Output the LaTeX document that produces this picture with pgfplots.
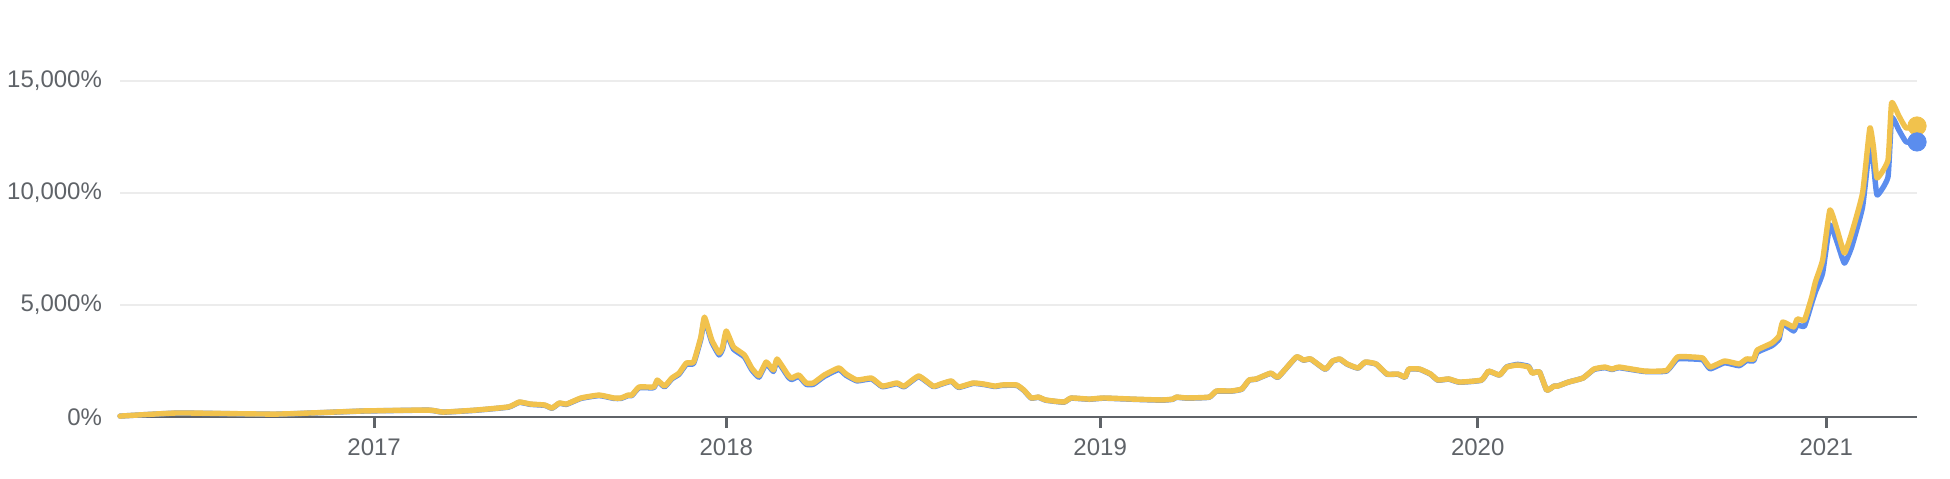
\documentclass[border=0pt]{standalone}
\usepackage{pgfplots}
\pgfplotsset{compat=1.18}
\usepackage{pgfplotstable}
\usepackage{fontspec}
\setmainfont{Liberation Sans}

\definecolor{goldline}{HTML}{F1C24D}
\definecolor{blueline}{HTML}{5B8DEE}
\definecolor{labelgray}{HTML}{5F6368}
\definecolor{gridgray}{HTML}{ECECEC}

% x = year, y = yellow series (%), b = blue series (%)
\pgfplotstableread{
x y b
2016.30 40 40
2016.46 180 175
2016.73 130 125
2016.97 270 265
2017.15 310 305
2017.19 220 215
2017.28 310 300
2017.37 450 440
2017.40 670 655
2017.43 580 565
2017.47 535 520
2017.49 400 390
2017.51 625 610
2017.53 580 565
2017.57 850 830
2017.62 980 955
2017.66 850 830
2017.68 850 830
2017.70 980 955
2017.71 980 955
2017.73 1340 1305
2017.77 1340 1305
2017.78 1650 1610
2017.80 1380 1345
2017.82 1740 1700
2017.84 1960 1910
2017.86 2410 2350
2017.88 2455 2390
2017.90 3570 3480
2017.91 4460 4350
2017.93 3440 3350
2017.95 2860 2770
2017.96 3125 3040
2017.97 3840 3740
2017.99 3125 3030
2018.02 2770 2680
2018.04 2190 2110
2018.06 1850 1780
2018.08 2455 2380
2018.10 2100 2030
2018.11 2590 2510
2018.14 1875 1800
2018.15 1740 1670
2018.17 1875 1810
2018.19 1520 1460
2018.21 1520 1460
2018.24 1875 1810
2018.28 2190 2120
2018.30 1920 1860
2018.33 1650 1610
2018.37 1740 1700
2018.40 1380 1350
2018.44 1520 1490
2018.46 1380 1350
2018.50 1830 1800
2018.54 1380 1360
2018.56 1470 1450
2018.59 1610 1590
2018.61 1340 1320
2018.65 1520 1500
2018.68 1470 1450
2018.71 1380 1360
2018.73 1430 1410
2018.77 1430 1410
2018.79 1200 1180
2018.81 850 840
2018.83 890 880
2018.85 760 750
2018.90 670 660
2018.92 850 840
2018.97 800 790
2019.01 850 840
2019.09 800 790
2019.17 760 750
2019.20 800 790
2019.21 890 880
2019.24 850 840
2019.30 890 880
2019.32 1160 1150
2019.36 1160 1150
2019.39 1250 1240
2019.41 1650 1640
2019.43 1700 1690
2019.47 1960 1950
2019.49 1785 1775
2019.54 2680 2670
2019.56 2545 2535
2019.58 2590 2580
2019.62 2140 2130
2019.64 2500 2490
2019.66 2590 2580
2019.68 2370 2360
2019.71 2190 2180
2019.73 2455 2445
2019.76 2370 2360
2019.79 1920 1910
2019.82 1920 1910
2019.84 1785 1775
2019.85 2140 2130
2019.88 2140 2130
2019.91 1920 1910
2019.93 1650 1640
2019.96 1700 1690
2019.99 1560 1550
2020.05 1650 1640
2020.07 2050 2040
2020.10 1875 1870
2020.12 2230 2240
2020.15 2320 2350
2020.18 2230 2260
2020.19 1960 1970
2020.21 2010 2010
2020.23 1200 1200
2020.25 1380 1380
2020.26 1380 1380
2020.29 1560 1560
2020.33 1740 1740
2020.36 2140 2120
2020.39 2230 2200
2020.41 2140 2120
2020.43 2230 2200
2020.50 2050 2030
2020.56 2080 2050
2020.59 2680 2590
2020.63 2680 2590
2020.66 2630 2550
2020.68 2230 2150
2020.72 2500 2420
2020.76 2370 2290
2020.78 2590 2510
2020.80 2590 2510
2020.81 2990 2890
2020.85 3300 3180
2020.87 3620 3480
2020.88 4240 4150
2020.91 4020 3840
2020.92 4375 4110
2020.94 4330 4060
2020.96 5360 5090
2020.97 6030 5580
2020.99 7010 6430
2021.01 9240 8570
2021.03 8350 7800
2021.05 7320 6870
2021.07 8210 7590
2021.10 10000 9375
2021.12 12900 12140
2021.13 12050 11300
2021.14 10670 9910
2021.17 11470 10710
2021.18 14020 13350
2021.20 13440 12810
2021.22 12900 12280
2021.25 12990 12280
}\returns

\begin{document}
\begin{tikzpicture}
\begin{axis}[
    scale only axis,
    width=898.5pt, height=208.5pt,
    xmin=2016.30, xmax=2021.25,
    ymin=0, ymax=18616,
    clip=false,
    axis x line*=bottom,
    axis y line*=left,
    y axis line style={draw=none},
    x axis line style={draw=labelgray, line width=1.4pt},
    tick align=outside,
    major tick length=5.5pt,
    xtick={2017,2017.97,2019,2020.04,2021},
    xticklabels={2017,2018,2019,2020,2021},
    xtick style={draw=labelgray, line width=1.6pt},
    ytick={0,5000,10000,15000},
    yticklabels={0\%,{5,000\%},{10,000\%},{15,000\%}},
    ytick style={draw=none},
    ymajorgrids,
    grid style={draw=gridgray, line width=0.8pt},
    ticklabel style={font=\fontsize{12}{14}\selectfont, text=labelgray},
    xticklabel style={yshift=-2pt},
    scaled y ticks=false,
]
\addplot[blueline, line width=2.7pt, line join=round, line cap=round, smooth, tension=0.25] table[x=x, y=b] {\returns};
\addplot[goldline, line width=2.7pt, line join=round, line cap=round, smooth, tension=0.25] table[x=x, y=y] {\returns};
\addplot[only marks, mark=*, mark size=4.6pt, goldline] coordinates {(2021.25,12990)};
\addplot[only marks, mark=*, mark size=4.6pt, blueline] coordinates {(2021.25,12280)};
\end{axis}
\pgfresetboundingbox
\path ([shift={(-60pt,-30.5pt)}]current axis.south west) rectangle ([shift={(16.5pt,0pt)}]current axis.north east);
\end{tikzpicture}
\end{document}
